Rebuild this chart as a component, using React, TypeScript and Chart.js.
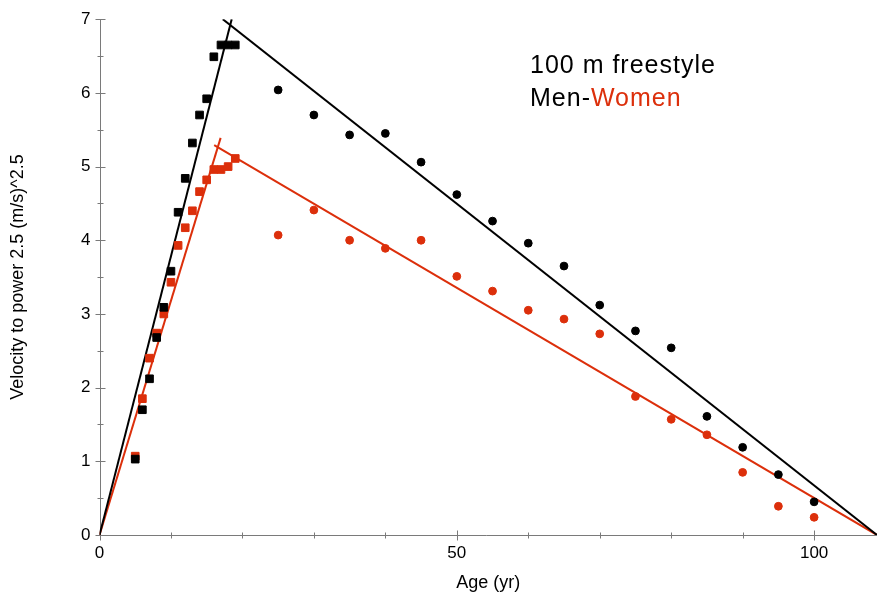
import React, { useEffect, useRef } from 'react';
import { Chart, registerables } from 'chart.js';

Chart.register(...registerables);

// Age groups of the youngest swimmers (squares) and the masters (circles)
const youngAges = [5, 6, 7, 8, 9, 10, 11, 12, 13, 14, 15, 16, 17, 18, 19];
const menYoung = [1.03, 1.7, 2.12, 2.68, 3.09, 3.58, 4.38, 4.84, 5.32, 5.7, 5.92, 6.49, 6.65, 6.65, 6.65];
const womenYoung = [1.07, 1.85, 2.4, 2.74, 3.0, 3.43, 3.93, 4.17, 4.4, 4.66, 4.82, 4.96, 4.96, 5.0, 5.11];

const oldAges = [25, 30, 35, 40, 45, 50, 55, 60, 65, 70, 75, 80, 85, 90, 95, 100];
const menOld = [6.04, 5.7, 5.43, 5.45, 5.06, 4.62, 4.26, 3.96, 3.65, 3.12, 2.77, 2.54, 1.61, 1.19, 0.82, 0.45];
const womenOld = [4.07, 4.41, 4.0, 3.89, 4.0, 3.51, 3.31, 3.05, 2.93, 2.73, 1.88, 1.57, 1.36, 0.85, 0.39, 0.24];

// Straight-line fits: rising branch through the origin, falling branch to zero
const menRiseAges = [0, 18.5];
const menRiseValues = [0, 7.0];
const menFallAges = [17.25, 108.8];
const menFallValues = [7.0, 0];
const womenRiseAges = [0, 16.95];
const womenRiseValues = [0, 5.39];
const womenFallAges = [16.05, 108.8];
const womenFallValues = [5.29, 0];

const xMajorTicks = [0, 50, 100];
const xMinorTicks = [10, 20, 30, 40, 60, 70, 80, 90];
const yMajorTicks = [0, 1, 2, 3, 4, 5, 6, 7];
const yMinorTicks = [0.5, 1.5, 2.5, 3.5, 4.5, 5.5, 6.5];

const titleLine1 = '100 m freestyle';
const titleMen = 'Men-';
const titleWomen = 'Women';

const BLACK = '#000000';
const RED = '#dc2f0b';
const AXIS = '#7a7a7a';
const FONT = "'Liberation Sans', Arial, Helvetica, sans-serif";

const pairs = (xs: number[], ys: number[]) => xs.map((x, i) => ({ x, y: ys[i] }));

const axesPlugin = {
  id: 'crossAxes',
  beforeDatasetsDraw(chart: any) {
    const { ctx, chartArea, scales } = chart;
    const sx = scales.x;
    const sy = scales.y;
    const x0 = Math.round(sx.getPixelForValue(0)) + 0.5;
    const y0 = Math.round(sy.getPixelForValue(0)) + 0.5;
    ctx.save();
    ctx.strokeStyle = AXIS;
    ctx.lineWidth = 1;
    ctx.beginPath();
    ctx.moveTo(x0, chartArea.top);
    ctx.lineTo(x0, y0 + 4);
    ctx.moveTo(x0 - 4, y0);
    ctx.lineTo(chartArea.right, y0);
    yMajorTicks.forEach((v) => {
      const p = Math.round(sy.getPixelForValue(v)) + 0.5;
      ctx.moveTo(x0 - 5, p);
      ctx.lineTo(x0 + 5, p);
    });
    yMinorTicks.forEach((v) => {
      const p = Math.round(sy.getPixelForValue(v)) + 0.5;
      ctx.moveTo(x0 - 3, p);
      ctx.lineTo(x0 + 3, p);
    });
    xMajorTicks.forEach((v) => {
      const p = Math.round(sx.getPixelForValue(v)) + 0.5;
      ctx.moveTo(p, y0 - 5);
      ctx.lineTo(p, y0 + 5);
    });
    xMinorTicks.forEach((v) => {
      const p = Math.round(sx.getPixelForValue(v)) + 0.5;
      ctx.moveTo(p, y0 - 3);
      ctx.lineTo(p, y0 + 3);
    });
    ctx.stroke();
    ctx.restore();
  },
};

const titlePlugin = {
  id: 'cornerTitle',
  afterDraw(chart: any) {
    const { ctx } = chart;
    ctx.save();
    ctx.font = `25px ${FONT}`;
    (ctx as any).letterSpacing = '1px';
    ctx.textBaseline = 'alphabetic';
    ctx.textAlign = 'left';
    ctx.fillStyle = BLACK;
    const left = 530;
    ctx.fillText(titleLine1, left, 73);
    ctx.fillText(titleMen, left, 106);
    const w = ctx.measureText(titleMen).width;
    ctx.fillStyle = RED;
    ctx.fillText(titleWomen, left + w, 106);
    ctx.restore();
  },
};

export default function App() {
  const canvasRef = useRef<HTMLCanvasElement | null>(null);

  useEffect(() => {
    const canvas = canvasRef.current;
    if (!canvas) return;

    const pointSet = (label: string, xs: number[], ys: number[], color: string, style: string, radius: number) => ({
      label,
      data: pairs(xs, ys),
      showLine: false,
      pointStyle: style,
      pointRadius: radius,
      pointHoverRadius: radius,
      pointBackgroundColor: color,
      pointBorderColor: color,
      pointBorderWidth: 1,
      backgroundColor: color,
      borderColor: color,
    });

    const lineSet = (label: string, xs: number[], ys: number[], color: string) => ({
      label,
      data: pairs(xs, ys),
      showLine: true,
      pointRadius: 0,
      pointHoverRadius: 0,
      borderColor: color,
      backgroundColor: color,
      borderWidth: 2,
      fill: false,
      tension: 0,
    });

    const chart = new Chart(canvas, {
      type: 'scatter',
      data: {
        datasets: [
          pointSet('Men (young)', youngAges, menYoung, BLACK, 'rect', 5.4),
          pointSet('Women (young)', youngAges, womenYoung, RED, 'rect', 5.4),
          pointSet('Men (masters)', oldAges, menOld, BLACK, 'circle', 3.9),
          pointSet('Women (masters)', oldAges, womenOld, RED, 'circle', 3.9),
          lineSet('Men rise', menRiseAges, menRiseValues, BLACK),
          lineSet('Men fall', menFallAges, menFallValues, BLACK),
          lineSet('Women rise', womenRiseAges, womenRiseValues, RED),
          lineSet('Women fall', womenFallAges, womenFallValues, RED),
        ] as any,
      },
      options: {
        animation: false,
        responsive: false,
        maintainAspectRatio: false,
        devicePixelRatio: 1,
        layout: { autoPadding: false, padding: { top: 17, right: 0, left: 0, bottom: 0 } },
        plugins: {
          legend: { display: false },
          tooltip: { enabled: false },
          title: { display: false },
        },
        events: [],
        scales: {
          x: {
            type: 'linear',
            min: 0,
            max: 108.8,
            grid: { display: false, drawTicks: false },
            border: { display: false },
            afterBuildTicks: (scale: any) => {
              scale.ticks = xMajorTicks.map((value) => ({ value }));
            },
            afterFit: (scale: any) => {
              scale.height = 65;
            },
            ticks: {
              color: BLACK,
              padding: 8,
              maxRotation: 0,
              autoSkip: false,
              font: { family: FONT, size: 17 },
            },
            title: {
              display: true,
              text: 'Age (yr)',
              color: BLACK,
              font: { family: FONT, size: 18 },
              padding: { top: 0, bottom: 6 },
            },
          },
          y: {
            type: 'linear',
            min: 0,
            max: 7,
            grid: { display: false, drawTicks: false },
            border: { display: false },
            afterBuildTicks: (scale: any) => {
              scale.ticks = yMajorTicks.map((value) => ({ value }));
            },
            afterFit: (scale: any) => {
              scale.width = 99.5;
            },
            ticks: {
              color: BLACK,
              padding: 9,
              autoSkip: false,
              font: { family: FONT, size: 17 },
            },
            title: {
              display: true,
              text: 'Velocity to power 2.5 (m/s)^2.5',
              color: BLACK,
              font: { family: FONT, size: 18 },
              padding: { top: 7, bottom: 0 },
            },
          },
        },
      } as any,
      plugins: [axesPlugin, titlePlugin],
    });

    return () => {
      chart.destroy();
    };
  }, []);

  return (
    <div style={{ position: 'fixed', left: 0, top: 0, width: 877, height: 600, background: '#ffffff' }}>
      <canvas ref={canvasRef} width={877} height={600} style={{ display: 'block', width: 877, height: 600 }} />
    </div>
  );
}
